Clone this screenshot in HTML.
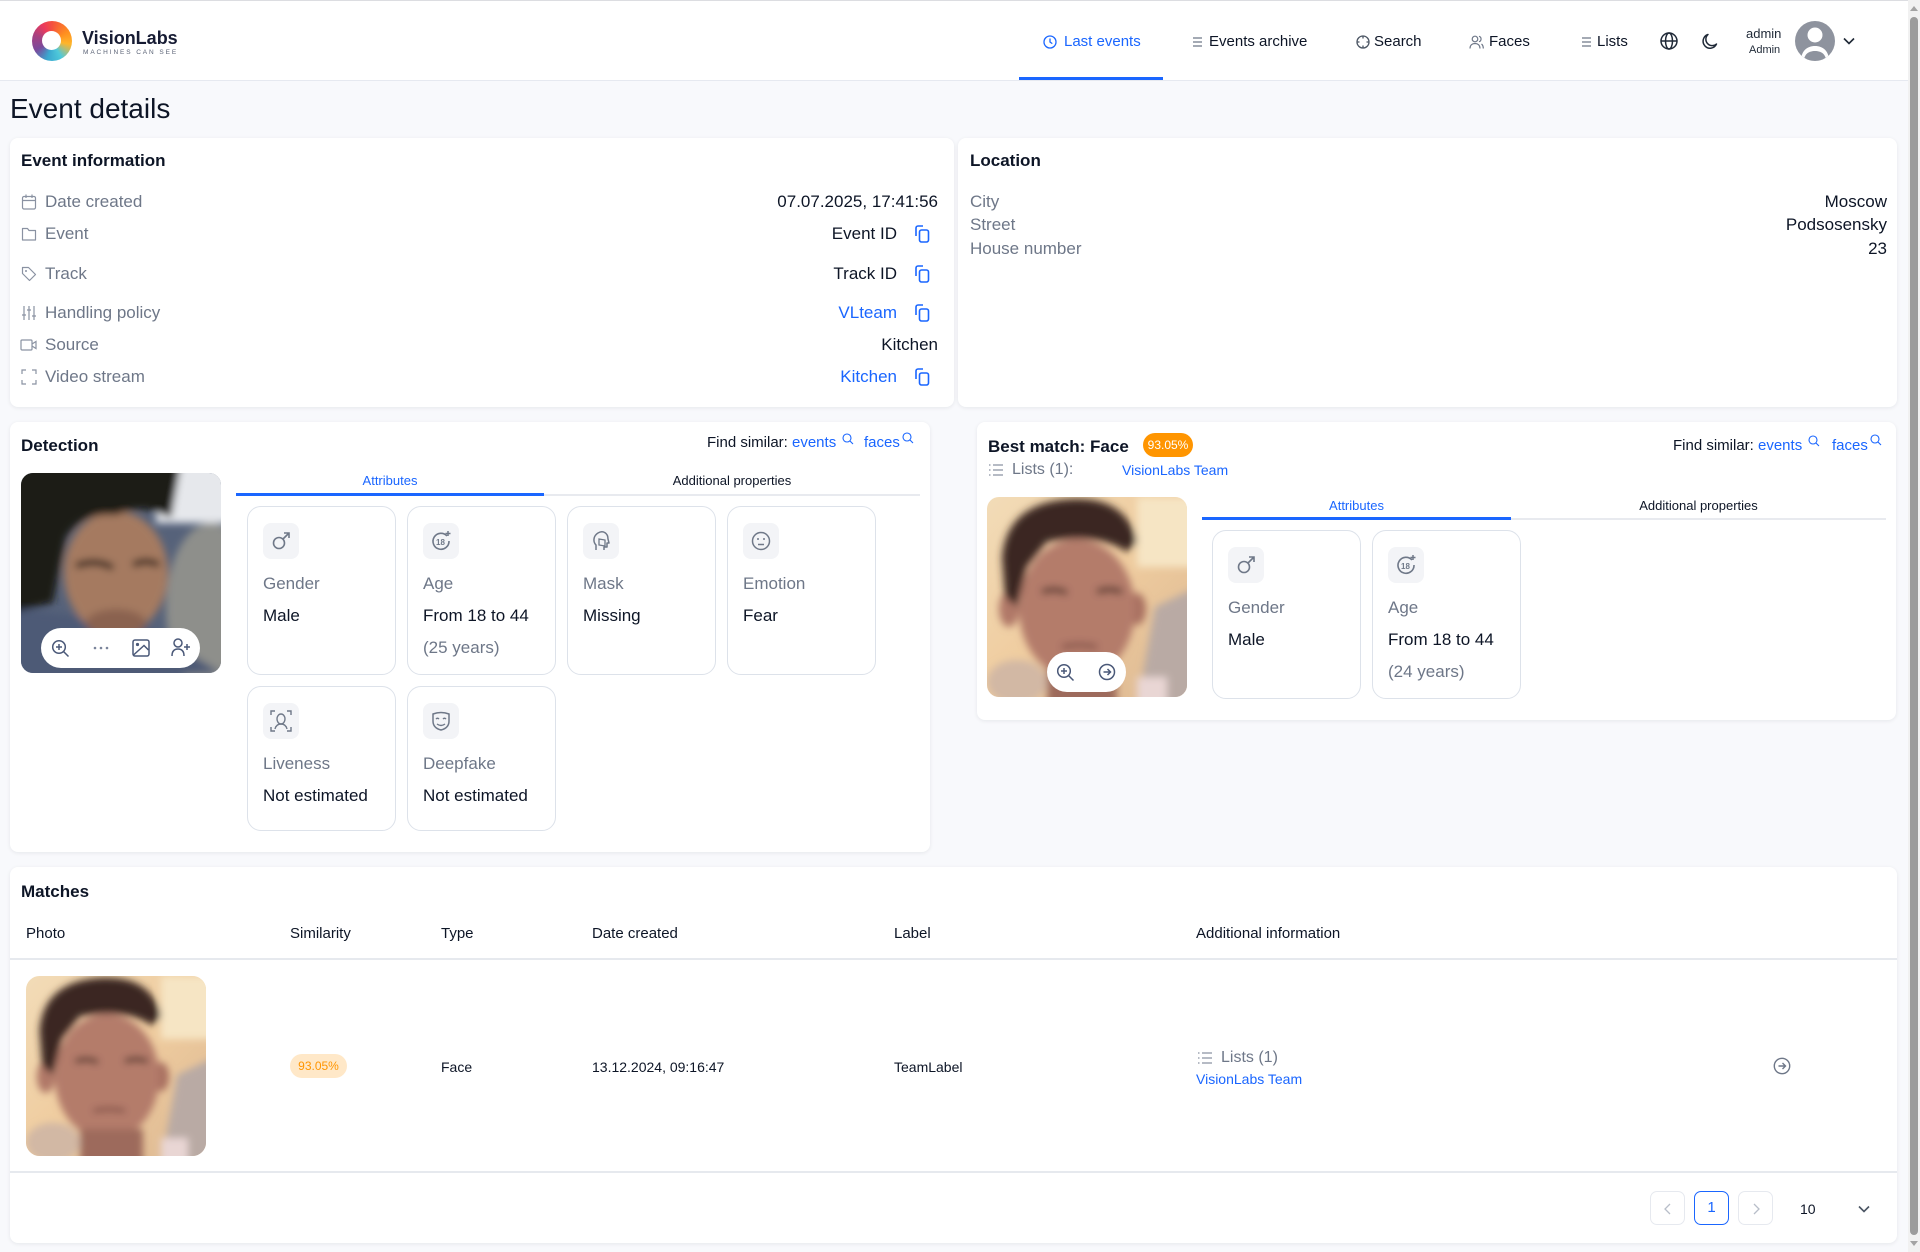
<!DOCTYPE html>
<html><head><meta charset="utf-8">
<style>
*{margin:0;padding:0;box-sizing:border-box}
html,body{width:1920px;height:1252px;overflow:hidden}
body{background:#f8f9fc;font-family:"Liberation Sans",Arial,sans-serif;color:#0d1526;position:relative}
.a{position:absolute}
.t{position:absolute;white-space:nowrap;line-height:20px;margin-top:1px}
.card{position:absolute;background:#fff;border-radius:8px;box-shadow:0 1px 4px rgba(16,24,40,.08)}
.g{color:#6e7788}
.b{color:#1a66ff}
.s17{font-size:17px}
.s16{font-size:16px}
.s15{font-size:15px}
.s14{font-size:14px}
.s13{font-size:13px}
.h{font-size:17px;font-weight:bold;color:#0d1526}
.attr{position:absolute;width:149px;border:1px solid #dde2ea;border-radius:14px;background:#fff}
.ib{position:absolute;left:15px;top:16px;width:36px;height:36px;border-radius:8px;background:#f3f4f7}
.ib svg{position:absolute;left:7px;top:7px}
.al{position:absolute;left:15px;top:67px;font-size:17px;line-height:20px;color:#6e7788;white-space:nowrap}
.av{position:absolute;left:15px;top:99px;font-size:17px;line-height:20px;color:#0d1526;white-space:nowrap}
.ay{position:absolute;left:15px;top:131px;font-size:17px;line-height:20px;color:#6e7788;white-space:nowrap}
.pill{position:absolute;background:#fff;border-radius:20px}
.pg{position:absolute;top:1191px;width:35px;height:34px;border:1px solid #e6e9ef;border-radius:7px;background:#fff}
</style></head>
<body>

<!-- Header -->
<div class="a" style="left:0;top:0;width:1908px;height:81px;background:#fff;border-top:1px solid #dcdde1;border-bottom:1px solid #e6e9f0"></div>
<div class="a" style="left:32px;top:21px;width:40px;height:40px;border-radius:50%;background:conic-gradient(from 0deg,#f4513f 0deg,#ff8f1f 60deg,#ffb52a 100deg,#4fc9da 150deg,#3aa7cf 195deg,#7a4a9c 240deg,#a8417f 290deg,#ec3a5c 330deg,#f4513f 360deg)"></div>
<div class="a" style="left:42px;top:31px;width:19px;height:19px;border-radius:50%;background:#fff"></div>
<div class="t" style="left:82px;top:27px;font-size:18px;font-weight:bold;color:#161b33">VisionLabs</div>
<div class="a" style="left:83px;top:49px;font-size:6.5px;line-height:8px;letter-spacing:1.9px;color:#5a6275;white-space:nowrap">MACHINES CAN SEE</div>

<svg class="a" style="left:1043px;top:35px" width="14" height="14" viewBox="0 0 14 14"><circle cx="7" cy="7" r="6" fill="none" stroke="#1a66ff" stroke-width="1.3"/><path d="M7 3.5V7L9.3 8.6" fill="none" stroke="#1a66ff" stroke-width="1.3"/></svg>
<div class="t s15 b" style="left:1064px;top:31px">Last events</div>
<svg class="a" style="left:1193px;top:37px" width="9" height="10" viewBox="0 0 9 10"><path d="M0 1H9M0 5H9M0 9H9" stroke="#6e7788" stroke-width="1.2"/></svg>
<div class="t s15" style="left:1209px;top:31px">Events archive</div>
<svg class="a" style="left:1356px;top:35px" width="14" height="14" viewBox="0 0 14 14"><circle cx="7" cy="7" r="6" fill="none" stroke="#4b5563" stroke-width="1.3"/><path d="M7 1V3.5M7 10.5V13M1 7H3.5M10.5 7H13" stroke="#4b5563" stroke-width="1.3"/></svg>
<div class="t s15" style="left:1374px;top:31px">Search</div>
<svg class="a" style="left:1469px;top:35px" width="15" height="14" viewBox="0 0 15 14"><circle cx="6" cy="4" r="2.8" fill="none" stroke="#6e7788" stroke-width="1.2"/><path d="M1 13.5C1 10 3.3 8.5 6 8.5S11 10 11 13.5M10 1.3A2.8 2.8 0 0 1 10 6.7M12.5 9C13.8 10 14.3 11.5 14.3 13.5" fill="none" stroke="#6e7788" stroke-width="1.2"/></svg>
<div class="t s15" style="left:1489px;top:31px">Faces</div>
<svg class="a" style="left:1582px;top:37px" width="9" height="10" viewBox="0 0 9 10"><path d="M0 1H9M0 5H9M0 9H9" stroke="#6e7788" stroke-width="1.2"/></svg>
<div class="t s15" style="left:1597px;top:31px">Lists</div>
<svg class="a" style="left:1660px;top:32px" width="18" height="18" viewBox="0 0 18 18"><circle cx="9" cy="9" r="8" fill="none" stroke="#1f2937" stroke-width="1.5"/><ellipse cx="9" cy="9" rx="3.5" ry="8" fill="none" stroke="#1f2937" stroke-width="1.5"/><path d="M1 9H17" stroke="#1f2937" stroke-width="1.5"/></svg>
<svg class="a" style="left:1701px;top:33px" width="17" height="17" viewBox="0 0 17 17"><path d="M7 1.5A7 7 0 1 0 15.5 11A6 6 0 0 1 7 1.5Z" fill="none" stroke="#1f2937" stroke-width="1.5" stroke-linejoin="round"/></svg>
<div class="t s13" style="left:1746px;top:23px;color:#1f2937">admin</div>
<div class="t" style="left:1749px;top:39px;font-size:11px;color:#1f2937">Admin</div>
<svg class="a" style="left:1795px;top:21px" width="40" height="40" viewBox="0 0 40 40"><defs><clipPath id="av"><circle cx="20" cy="20" r="20"/></clipPath></defs><circle cx="20" cy="20" r="20" fill="#8e939e"/><g clip-path="url(#av)"><circle cx="20" cy="14" r="7.5" fill="#fff"/><path d="M6 40C6 30 12 25 20 25S34 30 34 40Z" fill="#fff"/><path d="M9 40C9 33 14 30 20 30S31 33 31 40Z" fill="#8e939e"/></g></svg>
<svg class="a" style="left:1843px;top:37px" width="12" height="8" viewBox="0 0 12 8"><path d="M1 1.5L6 6.5L11 1.5" fill="none" stroke="#1f2937" stroke-width="1.6"/></svg>
<div class="a" style="left:1019px;top:77px;width:144px;height:3px;background:#1a66ff"></div>

<!-- Title -->
<div class="a" style="left:10px;top:92px;font-size:28px;line-height:34px;color:#0d1526;white-space:nowrap">Event details</div>

<!-- Event information -->
<div class="card" style="left:10px;top:138px;width:944px;height:269px"></div>
<div class="t h" style="left:21px;top:150px">Event information</div>

<svg class="a" style="left:21px;top:194px" width="16" height="16" viewBox="0 0 16 16"><rect x="1.5" y="2.5" width="13" height="12.5" rx="1.5" fill="none" stroke="#8a92a2" stroke-width="1.2"/><path d="M1.5 6.5H14.5M5 0.5V4M11 0.5V4" stroke="#8a92a2" stroke-width="1.2"/></svg>
<div class="t s17 g" style="left:45px;top:191px">Date created</div>
<div class="t s17" style="right:982px;top:191px">07.07.2025, 17:41:56</div>

<svg class="a" style="left:21px;top:226px" width="16" height="16" viewBox="0 0 16 16"><path d="M1.5 2.5H6.5L8 4.5H14.5V14H1.5Z" fill="none" stroke="#8a92a2" stroke-width="1.2" stroke-linejoin="round"/></svg>
<div class="t s17 g" style="left:45px;top:223px">Event</div>
<div class="t s17" style="right:1023px;top:223px">Event ID</div>
<svg class="a" style="left:913px;top:224px" width="18" height="20" viewBox="0 0 18 20"><path d="M3 12V4A2 2 0 0 1 5 2H10" fill="none" stroke="#1a66ff" stroke-width="1.6"/><rect x="6.5" y="6" width="9" height="12" rx="2" fill="none" stroke="#1a66ff" stroke-width="1.6"/></svg>

<svg class="a" style="left:21px;top:266px" width="16" height="16" viewBox="0 0 16 16"><path d="M1.5 1.5H7.5L14.5 8.5L8.5 14.5L1.5 7.5Z" fill="none" stroke="#8a92a2" stroke-width="1.2" stroke-linejoin="round"/><circle cx="5" cy="5" r="1" fill="#8a92a2"/></svg>
<div class="t s17 g" style="left:45px;top:263px">Track</div>
<div class="t s17" style="right:1023px;top:263px">Track ID</div>
<svg class="a" style="left:913px;top:264px" width="18" height="20" viewBox="0 0 18 20"><path d="M3 12V4A2 2 0 0 1 5 2H10" fill="none" stroke="#1a66ff" stroke-width="1.6"/><rect x="6.5" y="6" width="9" height="12" rx="2" fill="none" stroke="#1a66ff" stroke-width="1.6"/></svg>

<svg class="a" style="left:21px;top:305px" width="16" height="16" viewBox="0 0 16 16"><path d="M3 1V15M8 1V15M13 1V15M1 10H5M6 5H10M11 11H15" stroke="#8a92a2" stroke-width="1.2"/></svg>
<div class="t s17 g" style="left:45px;top:302px">Handling policy</div>
<div class="t s17 b" style="right:1023px;top:302px">VLteam</div>
<svg class="a" style="left:913px;top:303px" width="18" height="20" viewBox="0 0 18 20"><path d="M3 12V4A2 2 0 0 1 5 2H10" fill="none" stroke="#1a66ff" stroke-width="1.6"/><rect x="6.5" y="6" width="9" height="12" rx="2" fill="none" stroke="#1a66ff" stroke-width="1.6"/></svg>

<svg class="a" style="left:20px;top:337px" width="18" height="16" viewBox="0 0 18 16"><rect x="1" y="3" width="11" height="10" rx="1" fill="none" stroke="#8a92a2" stroke-width="1.2"/><path d="M12 7L16 4.5V11.5L12 9" fill="none" stroke="#8a92a2" stroke-width="1.2"/></svg>
<div class="t s17 g" style="left:45px;top:334px">Source</div>
<div class="t s17" style="right:982px;top:334px">Kitchen</div>

<svg class="a" style="left:21px;top:369px" width="16" height="16" viewBox="0 0 16 16"><path d="M1 5V1H5M11 1H15V5M15 11V15H11M5 15H1V11" fill="none" stroke="#8a92a2" stroke-width="1.2"/></svg>
<div class="t s17 g" style="left:45px;top:366px">Video stream</div>
<div class="t s17 b" style="right:1023px;top:366px">Kitchen</div>
<svg class="a" style="left:913px;top:367px" width="18" height="20" viewBox="0 0 18 20"><path d="M3 12V4A2 2 0 0 1 5 2H10" fill="none" stroke="#1a66ff" stroke-width="1.6"/><rect x="6.5" y="6" width="9" height="12" rx="2" fill="none" stroke="#1a66ff" stroke-width="1.6"/></svg>

<!-- Location -->
<div class="card" style="left:958px;top:138px;width:939px;height:269px"></div>
<div class="t h" style="left:970px;top:150px">Location</div>
<div class="t s17 g" style="left:970px;top:191px">City</div>
<div class="t s17" style="right:33px;top:191px">Moscow</div>
<div class="t s17 g" style="left:970px;top:214px">Street</div>
<div class="t s17" style="right:33px;top:214px">Podsosensky</div>
<div class="t s17 g" style="left:970px;top:238px">House number</div>
<div class="t s17" style="right:33px;top:238px">23</div>

<!-- Detection -->
<div class="card" style="left:10px;top:422px;width:920px;height:430px"></div>
<div class="t h" style="left:21px;top:435px">Detection</div>
<div class="t s15" style="left:707px;top:432px">Find similar:</div>
<div class="t s15 b" style="left:792px;top:432px">events</div>
<svg class="a" style="left:842px;top:433px" width="12" height="12" viewBox="0 0 12 12"><circle cx="5" cy="5" r="4" fill="none" stroke="#1a66ff" stroke-width="1.1"/><path d="M8 8L11 11" stroke="#1a66ff" stroke-width="1.1"/></svg>
<div class="t s15 b" style="left:864px;top:432px">faces</div>
<svg class="a" style="left:902px;top:432px" width="12" height="12" viewBox="0 0 12 12"><circle cx="5" cy="5" r="4" fill="none" stroke="#1a66ff" stroke-width="1.1"/><path d="M8 8L11 11" stroke="#1a66ff" stroke-width="1.1"/></svg>

<svg class="a" style="left:21px;top:473px" width="200" height="200" viewBox="0 0 200 200">
<defs><filter id="bl1" x="-20%" y="-20%" width="140%" height="140%"><feGaussianBlur stdDeviation="4"/></filter><clipPath id="c1"><rect width="200" height="200" rx="12"/></clipPath></defs>
<g clip-path="url(#c1)">
<rect width="200" height="200" fill="#56627a"/>
<g filter="url(#bl1)">
<rect x="135" y="-10" width="80" height="60" fill="#e6e8ec"/>
<ellipse cx="190" cy="135" rx="45" ry="85" fill="#8e8f8b"/>
<path d="M-10 135L120 150L200 200L-10 210Z" fill="#4d5a76"/>
<ellipse cx="95" cy="100" rx="52" ry="62" fill="#a57a60"/>
<ellipse cx="95" cy="150" rx="30" ry="14" fill="#8a6250"/>
<path d="M-10 -10H160L150 45Q120 30 95 42Q62 38 45 65L32 130L-10 140Z" fill="#1e1a18"/>
<path d="M55 93Q75 85 92 95" stroke="#2a1e18" stroke-width="6" fill="none"/>
<path d="M112 92Q125 85 138 92" stroke="#2a1e18" stroke-width="6" fill="none"/>
</g></g></svg>
<div class="pill" style="left:41px;top:628px;width:159px;height:40px"></div>
<svg class="a" style="left:51px;top:639px" width="19" height="19" viewBox="0 0 19 19"><circle cx="8" cy="8" r="6.3" fill="none" stroke="#4a5878" stroke-width="1.5"/><path d="M12.5 12.5L17.5 17.5M8 5V11M5 8H11" stroke="#4a5878" stroke-width="1.5"/></svg>
<svg class="a" style="left:93px;top:646px" width="16" height="4" viewBox="0 0 16 4"><circle cx="2" cy="2" r="1.3" fill="#7a849a"/><circle cx="8" cy="2" r="1.3" fill="#7a849a"/><circle cx="14" cy="2" r="1.3" fill="#7a849a"/></svg>
<svg class="a" style="left:132px;top:639px" width="18" height="18" viewBox="0 0 18 18"><rect x="1" y="1" width="16" height="16" rx="2" fill="none" stroke="#4a5878" stroke-width="1.5"/><circle cx="5.5" cy="5.5" r="1.6" fill="#4a5878"/><path d="M1.5 16L12 6.5L16.5 11" fill="none" stroke="#4a5878" stroke-width="1.5"/></svg>
<svg class="a" style="left:171px;top:638px" width="20" height="19" viewBox="0 0 20 19"><circle cx="7" cy="5" r="4" fill="none" stroke="#4a5878" stroke-width="1.5"/><path d="M1 18C1 13 3.5 11 7 11S13 13 13 18M16 6V12M13 9H19" fill="none" stroke="#4a5878" stroke-width="1.5"/></svg>

<div class="t s13 b" style="left:236px;top:470px;width:308px;text-align:center">Attributes</div>
<div class="t s13" style="left:544px;top:470px;width:376px;text-align:center">Additional properties</div>
<div class="a" style="left:544px;top:494px;width:376px;height:2px;background:#e8eaef"></div>
<div class="a" style="left:236px;top:493px;width:308px;height:3px;background:#1a66ff"></div>

<div class="attr" style="left:247px;top:506px;height:169px">
 <div class="ib"><svg width="22" height="22" viewBox="0 0 22 22"><circle cx="9" cy="13" r="5.5" fill="none" stroke="#6f7888" stroke-width="1.6"/><path d="M13 9L19 3M14 3H19V8" fill="none" stroke="#6f7888" stroke-width="1.6"/></svg></div>
 <div class="al">Gender</div><div class="av">Male</div></div>
<div class="attr" style="left:407px;top:506px;height:169px">
 <div class="ib"><svg width="22" height="22" viewBox="0 0 22 22"><path d="M17 6A8 8 0 1 0 19 11" fill="none" stroke="#6f7888" stroke-width="1.6"/><path d="M18 1V6M15.5 3.5H20.5" stroke="#6f7888" stroke-width="1.5"/><text x="6" y="15" font-family="Liberation Sans" font-size="8" font-weight="bold" fill="#6f7888">18</text></svg></div>
 <div class="al">Age</div><div class="av">From 18 to 44</div><div class="ay">(25 years)</div></div>
<div class="attr" style="left:567px;top:506px;height:169px">
 <div class="ib"><svg width="22" height="22" viewBox="0 0 22 22"><path d="M6 20V15C3 12 3 6 8 3S18 3 18 9L19 13H17V17H14V20" fill="none" stroke="#6f7888" stroke-width="1.5" stroke-linejoin="round"/><path d="M9 9L15 10V16L9 15Z" fill="none" stroke="#6f7888" stroke-width="1.3"/></svg></div>
 <div class="al">Mask</div><div class="av">Missing</div></div>
<div class="attr" style="left:727px;top:506px;height:169px">
 <div class="ib"><svg width="22" height="22" viewBox="0 0 22 22"><circle cx="11" cy="11" r="8.5" fill="none" stroke="#6f7888" stroke-width="1.5"/><circle cx="8" cy="9" r="1" fill="#6f7888"/><circle cx="14" cy="9" r="1" fill="#6f7888"/><path d="M8 14.5H14" stroke="#6f7888" stroke-width="1.5"/></svg></div>
 <div class="al">Emotion</div><div class="av">Fear</div></div>
<div class="attr" style="left:247px;top:686px;height:145px">
 <div class="ib"><svg width="22" height="22" viewBox="0 0 22 22"><path d="M1 5V1H5M17 1H21V5M21 17V21H17M5 21H1V17" fill="none" stroke="#6f7888" stroke-width="1.4"/><ellipse cx="11" cy="9" rx="4" ry="5" fill="none" stroke="#6f7888" stroke-width="1.4"/><path d="M5 19C6 15 8.5 14 11 14S16 15 17 19" fill="none" stroke="#6f7888" stroke-width="1.4"/></svg></div>
 <div class="al">Liveness</div><div class="av">Not estimated</div></div>
<div class="attr" style="left:407px;top:686px;height:145px">
 <div class="ib"><svg width="22" height="22" viewBox="0 0 22 22"><path d="M3 4Q11 1 19 4V11Q19 18 11 20Q3 18 3 11Z" fill="none" stroke="#6f7888" stroke-width="1.5"/><path d="M6 9Q7.5 7.5 9 9M13 9Q14.5 7.5 16 9M7 14Q11 17 15 14" fill="none" stroke="#6f7888" stroke-width="1.4"/></svg></div>
 <div class="al">Deepfake</div><div class="av">Not estimated</div></div>

<!-- Best match -->
<div class="card" style="left:977px;top:422px;width:919px;height:298px"></div>
<div class="t h" style="left:988px;top:436px">Best match: Face</div>
<div class="a" style="left:1143px;top:433px;width:50px;height:24px;border-radius:12px;background:#ff9500;color:#fff;font-size:12px;line-height:24px;text-align:center">93.05%</div>
<svg class="a" style="left:989px;top:464px" width="14" height="12" viewBox="0 0 14 12"><path d="M4 1H14M4 6H14M4 11H14" stroke="#8a92a2" stroke-width="1.2"/><path d="M0 1H1.5M0 6H1.5M0 11H1.5" stroke="#8a92a2" stroke-width="1.2"/></svg>
<div class="t s16 g" style="left:1012px;top:459px">Lists (1):</div>
<div class="t s14 b" style="left:1122px;top:459px">VisionLabs Team</div>
<div class="t s15" style="left:1673px;top:435px">Find similar:</div>
<div class="t s15 b" style="left:1758px;top:435px">events</div>
<svg class="a" style="left:1808px;top:435px" width="12" height="12" viewBox="0 0 12 12"><circle cx="5" cy="5" r="4" fill="none" stroke="#1a66ff" stroke-width="1.1"/><path d="M8 8L11 11" stroke="#1a66ff" stroke-width="1.1"/></svg>
<div class="t s15 b" style="left:1832px;top:435px">faces</div>
<svg class="a" style="left:1870px;top:434px" width="12" height="12" viewBox="0 0 12 12"><circle cx="5" cy="5" r="4" fill="none" stroke="#1a66ff" stroke-width="1.1"/><path d="M8 8L11 11" stroke="#1a66ff" stroke-width="1.1"/></svg>

<svg class="a" style="left:987px;top:497px" width="200" height="200" viewBox="0 0 200 200">
<defs><filter id="bl2" x="-20%" y="-20%" width="140%" height="140%"><feGaussianBlur stdDeviation="4"/></filter><clipPath id="c2"><rect width="200" height="200" rx="12"/></clipPath>
<linearGradient id="bg2" x1="0" y1="0" x2="1" y2="1"><stop offset="0" stop-color="#f2dcb8"/><stop offset="0.5" stop-color="#efcc9f"/><stop offset="1" stop-color="#dcb892"/></linearGradient></defs>
<g clip-path="url(#c2)">
<rect width="200" height="200" fill="url(#bg2)"/>
<g filter="url(#bl2)">
<rect x="150" y="0" width="60" height="70" fill="#f6e5c4"/>
<path d="M168 110L210 90V210H150Z" fill="#b9aaa4"/>
<ellipse cx="30" cy="185" rx="30" ry="22" fill="#d2b8a4"/>
<ellipse cx="22" cy="112" rx="10" ry="18" fill="#b07868"/>
<ellipse cx="150" cy="112" rx="9" ry="16" fill="#a87060"/>
<ellipse cx="90" cy="112" rx="58" ry="70" fill="#b47c6b"/>
<rect x="60" y="170" width="70" height="40" fill="#9d6a5c"/>
<path d="M15 60Q20 5 85 2Q140 0 150 45L140 55Q110 35 60 45L40 70L30 110L18 100Z" fill="#3a2822"/>
<path d="M55 95Q68 90 80 96M110 95Q122 90 135 95" stroke="#4a2e28" stroke-width="5" fill="none"/>
<path d="M75 150Q92 146 110 150" stroke="#7a4a42" stroke-width="4" fill="none"/>
<rect x="150" y="180" width="30" height="30" fill="#e9d6d4"/>
</g></g></svg>
<div class="pill" style="left:1047px;top:652px;width:79px;height:40px"></div>
<svg class="a" style="left:1056px;top:663px" width="19" height="19" viewBox="0 0 19 19"><circle cx="8" cy="8" r="6.3" fill="none" stroke="#4a5878" stroke-width="1.5"/><path d="M12.5 12.5L17.5 17.5M8 5V11M5 8H11" stroke="#4a5878" stroke-width="1.5"/></svg>
<svg class="a" style="left:1098px;top:663px" width="18" height="18" viewBox="0 0 18 18"><circle cx="9" cy="9" r="7.5" fill="none" stroke="#4a5878" stroke-width="1.5"/><path d="M5.5 9H12.5M9.5 6L12.5 9L9.5 12" fill="none" stroke="#4a5878" stroke-width="1.5"/></svg>

<div class="t s13 b" style="left:1202px;top:495px;width:309px;text-align:center">Attributes</div>
<div class="t s13" style="left:1511px;top:495px;width:375px;text-align:center">Additional properties</div>
<div class="a" style="left:1511px;top:518px;width:375px;height:2px;background:#e8eaef"></div>
<div class="a" style="left:1202px;top:517px;width:309px;height:3px;background:#1a66ff"></div>

<div class="attr" style="left:1212px;top:530px;height:169px">
 <div class="ib"><svg width="22" height="22" viewBox="0 0 22 22"><circle cx="9" cy="13" r="5.5" fill="none" stroke="#6f7888" stroke-width="1.6"/><path d="M13 9L19 3M14 3H19V8" fill="none" stroke="#6f7888" stroke-width="1.6"/></svg></div>
 <div class="al">Gender</div><div class="av">Male</div></div>
<div class="attr" style="left:1372px;top:530px;height:169px">
 <div class="ib"><svg width="22" height="22" viewBox="0 0 22 22"><path d="M17 6A8 8 0 1 0 19 11" fill="none" stroke="#6f7888" stroke-width="1.6"/><path d="M18 1V6M15.5 3.5H20.5" stroke="#6f7888" stroke-width="1.5"/><text x="6" y="15" font-family="Liberation Sans" font-size="8" font-weight="bold" fill="#6f7888">18</text></svg></div>
 <div class="al">Age</div><div class="av">From 18 to 44</div><div class="ay">(24 years)</div></div>

<!-- Matches -->
<div class="card" style="left:10px;top:867px;width:1887px;height:376px"></div>
<div class="t h" style="left:21px;top:881px">Matches</div>
<div class="t s15" style="left:26px;top:923px">Photo</div>
<div class="t s15" style="left:290px;top:923px">Similarity</div>
<div class="t s15" style="left:441px;top:923px">Type</div>
<div class="t s15" style="left:592px;top:923px">Date created</div>
<div class="t s15" style="left:894px;top:923px">Label</div>
<div class="t s15" style="left:1196px;top:923px">Additional information</div>
<div class="a" style="left:10px;top:958px;width:1887px;height:2px;background:#e6e9ee"></div>

<svg class="a" style="left:26px;top:976px" width="180" height="180" viewBox="0 0 200 200">
<defs><filter id="bl3" x="-20%" y="-20%" width="140%" height="140%"><feGaussianBlur stdDeviation="4"/></filter><clipPath id="c3"><rect width="200" height="200" rx="15"/></clipPath>
<linearGradient id="bg3" x1="0" y1="0" x2="1" y2="1"><stop offset="0" stop-color="#f2dcb8"/><stop offset="0.5" stop-color="#efcc9f"/><stop offset="1" stop-color="#dcb892"/></linearGradient></defs>
<g clip-path="url(#c3)">
<rect width="200" height="200" fill="url(#bg3)"/>
<g filter="url(#bl3)">
<rect x="150" y="0" width="60" height="70" fill="#f6e5c4"/>
<path d="M168 110L210 90V210H150Z" fill="#b9aaa4"/>
<ellipse cx="30" cy="185" rx="30" ry="22" fill="#d2b8a4"/>
<ellipse cx="22" cy="112" rx="10" ry="18" fill="#b07868"/>
<ellipse cx="150" cy="112" rx="9" ry="16" fill="#a87060"/>
<ellipse cx="90" cy="112" rx="58" ry="70" fill="#b47c6b"/>
<rect x="60" y="170" width="70" height="40" fill="#9d6a5c"/>
<path d="M15 60Q20 5 85 2Q140 0 150 45L140 55Q110 35 60 45L40 70L30 110L18 100Z" fill="#3a2822"/>
<path d="M55 95Q68 90 80 96M110 95Q122 90 135 95" stroke="#4a2e28" stroke-width="5" fill="none"/>
<path d="M75 150Q92 146 110 150" stroke="#7a4a42" stroke-width="4" fill="none"/>
<rect x="150" y="180" width="30" height="30" fill="#e9d6d4"/>
</g></g></svg>

<div class="a" style="left:290px;top:1054px;width:57px;height:24px;border-radius:12px;background:#ffe8c8;color:#ff9500;font-size:12px;line-height:24px;text-align:center">93.05%</div>
<div class="t s14" style="left:441px;top:1056px">Face</div>
<div class="t s14" style="left:592px;top:1056px">13.12.2024, 09:16:47</div>
<div class="t s14" style="left:894px;top:1056px">TeamLabel</div>
<svg class="a" style="left:1198px;top:1052px" width="14" height="12" viewBox="0 0 14 12"><path d="M4 1H14M4 6H14M4 11H14" stroke="#8a92a2" stroke-width="1.2"/><path d="M0 1H1.5M0 6H1.5M0 11H1.5" stroke="#8a92a2" stroke-width="1.2"/></svg>
<div class="t s16 g" style="left:1221px;top:1047px">Lists (1)</div>
<div class="t s14 b" style="left:1196px;top:1068px">VisionLabs Team</div>
<svg class="a" style="left:1773px;top:1057px" width="18" height="18" viewBox="0 0 18 18"><circle cx="9" cy="9" r="7.7" fill="none" stroke="#6e7788" stroke-width="1.4"/><path d="M5.5 9H12.5M9.5 6L12.5 9L9.5 12" fill="none" stroke="#6e7788" stroke-width="1.4"/></svg>
<div class="a" style="left:10px;top:1171px;width:1887px;height:2px;background:#e6e9ee"></div>

<div class="pg" style="left:1650px"><svg class="a" style="left:12px;top:11px" width="9" height="12" viewBox="0 0 9 12"><path d="M7 1L2 6L7 11" fill="none" stroke="#b8bec9" stroke-width="1.3"/></svg></div>
<div class="pg" style="left:1694px;border:1.5px solid #1a66ff;color:#1a66ff;font-size:15px;line-height:31px;text-align:center">1</div>
<div class="pg" style="left:1738px"><svg class="a" style="left:13px;top:11px" width="9" height="12" viewBox="0 0 9 12"><path d="M2 1L7 6L2 11" fill="none" stroke="#b8bec9" stroke-width="1.3"/></svg></div>
<div class="t s14" style="left:1800px;top:1198px">10</div>
<svg class="a" style="left:1858px;top:1205px" width="12" height="8" viewBox="0 0 12 8"><path d="M1 1.5L6 6.5L11 1.5" fill="none" stroke="#4b5563" stroke-width="1.6"/></svg>

<!-- Scrollbar -->
<div class="a" style="left:1908px;top:0;width:12px;height:1252px;background:#f1f1f1"></div>
<div class="a" style="left:1910px;top:17px;width:8px;height:1218px;background:#9c9c9c;border-radius:4px"></div>
<svg class="a" style="left:1909px;top:5px" width="10" height="7" viewBox="0 0 10 7"><path d="M1 6L5 1L9 6Z" fill="#a3a3a3"/></svg>
<svg class="a" style="left:1909px;top:1240px" width="10" height="7" viewBox="0 0 10 7"><path d="M1 1L5 6L9 1Z" fill="#a3a3a3"/></svg>

</body></html>
